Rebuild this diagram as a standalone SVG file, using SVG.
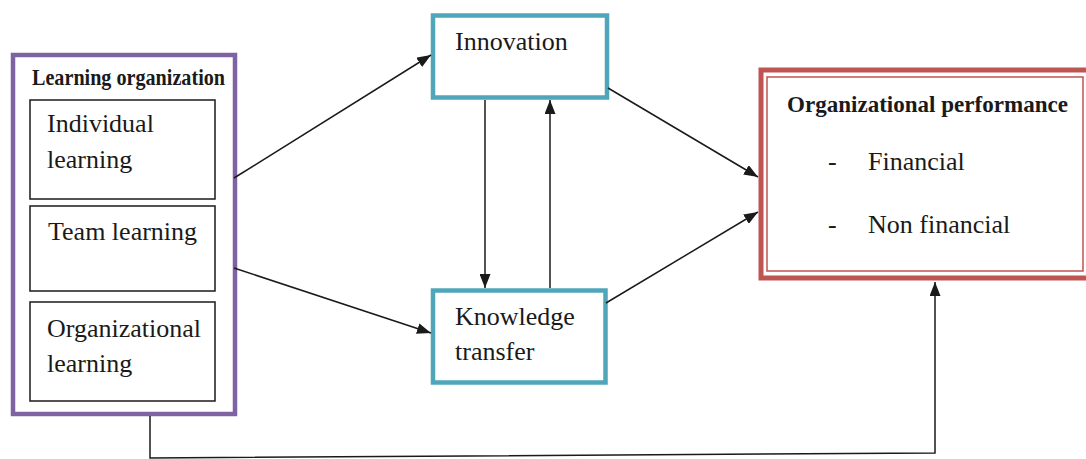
<svg xmlns="http://www.w3.org/2000/svg" width="1086" height="459" viewBox="0 0 1086 459">
<defs>
<style>
text{font-family:"Liberation Serif","Times New Roman",serif;fill:#1a1a1a;}
.t{font-size:26px;}
.b{font-size:23px;font-weight:bold;}
.inner{fill:#fff;stroke:#1a1a1a;stroke-width:1.5;}
.teal{fill:#fff;stroke:#4fa6bb;stroke-width:4.5;}
.con{fill:none;stroke:#1a1a1a;stroke-width:1.5;}
</style>
<marker id="ah" viewBox="0 0 14 11" refX="14" refY="5.5" markerWidth="14" markerHeight="11" markerUnits="userSpaceOnUse" orient="auto">
<path d="M0,0 L14,5.5 L0,11 Z" fill="#1a1a1a"/>
</marker>
</defs>
<rect width="1086" height="459" fill="#fff"/>
<g id="learning-organization">
<rect x="13" y="55" width="222" height="359" fill="#fff" stroke="#7d63a1" stroke-width="4.5"/>
<text class="b" x="32" y="85" textLength="193" lengthAdjust="spacingAndGlyphs">Learning organization</text>
</g>
<g id="individual-learning">
<rect class="inner" x="30" y="100" width="185" height="99"/>
<text class="t" x="47" y="132">Individual</text>
<text class="t" x="47" y="168">learning</text>
</g>
<g id="team-learning">
<rect class="inner" x="30" y="206" width="185" height="85"/>
<text class="t" x="48" y="240">Team learning</text>
</g>
<g id="organizational-learning">
<rect class="inner" x="30" y="302" width="185" height="99"/>
<text class="t" x="47" y="337">Organizational</text>
<text class="t" x="47" y="372">learning</text>
</g>
<g id="innovation">
<rect class="teal" x="433" y="15.5" width="174" height="82"/>
<text class="t" x="455" y="50">Innovation</text>
</g>
<g id="knowledge-transfer">
<rect class="teal" x="433" y="290.5" width="172.5" height="92"/>
<text class="t" x="455" y="325">Knowledge</text>
<text class="t" x="455" y="360">transfer</text>
</g>
<g id="organizational-performance">
<rect x="761" y="70" width="330" height="208" fill="#fff" stroke="#be5552" stroke-width="5"/>
<rect x="767" y="77" width="316" height="194" fill="none" stroke="#be5552" stroke-width="1.5"/>
<text class="b" x="787" y="112" textLength="281" lengthAdjust="spacingAndGlyphs">Organizational performance</text>
<text class="t" x="828" y="170">-</text>
<text class="t" x="868" y="170">Financial</text>
<text class="t" x="828" y="233">-</text>
<text class="t" x="868" y="233">Non financial</text>
</g>
<g id="connectors">
<line class="con" x1="234" y1="178" x2="431" y2="55" marker-end="url(#ah)"/>
<line class="con" x1="234" y1="268" x2="431" y2="333" marker-end="url(#ah)"/>
<line class="con" x1="608" y1="88" x2="758" y2="177" marker-end="url(#ah)"/>
<line class="con" x1="606" y1="303" x2="758" y2="212" marker-end="url(#ah)"/>
<line class="con" x1="485" y1="100" x2="485" y2="288" marker-end="url(#ah)"/>
<line class="con" x1="550" y1="288" x2="550" y2="100" marker-end="url(#ah)"/>
<polyline class="con" points="150,416 150,458 935,453 935,282" marker-end="url(#ah)"/>
</g>
</svg>
